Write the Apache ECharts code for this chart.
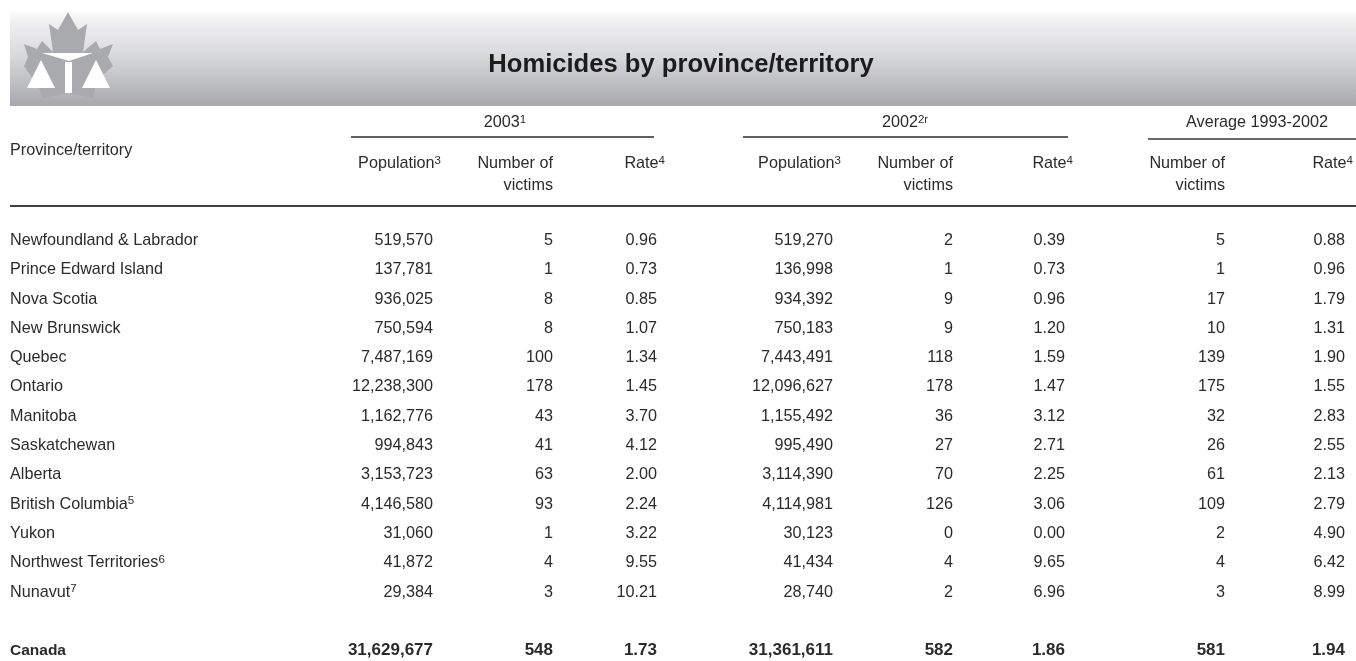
<!DOCTYPE html>
<html>
<head>
<meta charset="utf-8">
<title>Homicides by province/territory</title>
<script src="https://cdn.jsdelivr.net/npm/echarts@6/dist/echarts.min.js"></script>
<style>
  html, body { margin: 0; padding: 0; background: #fff; }
  #chart { width: 1356px; height: 661px; }
</style>
</head>
<body>
<div id="chart"></div>
<script>
// table values, last row is the total, the empty row keeps the gap above it
var provinces = ["Newfoundland & Labrador", "Prince Edward Island", "Nova Scotia", "New Brunswick", "Quebec", "Ontario", "Manitoba", "Saskatchewan", "Alberta", "British Columbia", "Yukon", "Northwest Territories", "Nunavut", "", "Canada"];
var footnotes = { "British Columbia": "5", "Northwest Territories": "6", "Nunavut": "7" };

var population2003 = [519570, 137781, 936025, 750594, 7487169, 12238300, 1162776, 994843, 3153723, 4146580, 31060, 41872, 29384, null, 31629677];
var victims2003 = [5, 1, 8, 8, 100, 178, 43, 41, 63, 93, 1, 4, 3, null, 548];
var rate2003 = [0.96, 0.73, 0.85, 1.07, 1.34, 1.45, 3.70, 4.12, 2.00, 2.24, 3.22, 9.55, 10.21, null, 1.73];

var population2002 = [519270, 136998, 934392, 750183, 7443491, 12096627, 1155492, 995490, 3114390, 4114981, 30123, 41434, 28740, null, 31361611];
var victims2002 = [2, 1, 9, 9, 118, 178, 36, 27, 70, 126, 0, 4, 2, null, 582];
var rate2002 = [0.39, 0.73, 0.96, 1.20, 1.59, 1.47, 3.12, 2.71, 2.25, 3.06, 0.00, 9.65, 6.96, null, 1.86];

var victimsAvg = [5, 1, 17, 10, 139, 175, 32, 26, 61, 109, 2, 4, 3, null, 581];
var rateAvg = [0.88, 0.96, 1.79, 1.31, 1.90, 1.55, 2.83, 2.55, 2.13, 2.79, 4.90, 6.42, 8.99, null, 1.94];

var FONT = '"Liberation Sans", Arial, sans-serif';
var INK = "#2b2b2b";
var SIZE = 16.2;
var rowHeight = 29.3;
var firstRowY = 240.5;

function thousands(v) { return v.toLocaleString("en-US"); }
function twoDecimals(v) { return v.toFixed(2); }
function plain(v) { return String(v); }

var richStyles = {
  sup: { fontFamily: FONT, fontSize: 11.5, fill: INK, color: INK, verticalAlign: "top", lineHeight: 12 },
  base: { fontFamily: FONT, fontSize: SIZE, fill: INK, color: INK, lineHeight: 18 }
};

// one custom series per column, placed by the axes
function columnSeries(name, colX, values, format) {
  var data = [];
  values.forEach(function (v, i) {
    if (v !== null) data.push([colX, i]);
  });
  return {
    name: name,
    type: "custom",
    silent: true,
    coordinateSystem: "cartesian2d",
    data: data,
    encode: { x: 0, y: 1 },
    renderItem: function (params, api) {
      var row = api.value(1);
      var pt = api.coord([api.value(0), row]);
      var total = row === provinces.length - 1;
      return {
        type: "text",
        x: pt[0],
        y: pt[1],
        style: {
          text: format(values[row]),
          align: "right",
          verticalAlign: "middle",
          fontFamily: FONT,
          fontSize: total ? 17 : SIZE,
          fontWeight: total ? "bold" : "normal",
          fill: INK
        }
      };
    }
  };
}

var nameSeries = {
  name: "Province/territory",
  type: "custom",
  silent: true,
  coordinateSystem: "cartesian2d",
  data: provinces.map(function (p, i) { return [10, i]; }),
  encode: { x: 0, y: 1 },
  renderItem: function (params, api) {
    var row = api.value(1);
    var pt = api.coord([api.value(0), row]);
    var name = provinces[row];
    var note = footnotes[name];
    var total = row === provinces.length - 1;
    return {
      type: "text",
      x: pt[0],
      y: pt[1],
      style: {
        text: note ? "{base|" + name + "}{sup|" + note + "}" : name,
        rich: richStyles,
        align: "left",
        verticalAlign: "middle",
        fontFamily: FONT,
        fontSize: total ? 15.5 : SIZE,
        fontWeight: total ? "bold" : "normal",
        fill: INK
      }
    };
  }
};

function headerText(x, y, text, align, extra) {
  var style = {
    text: text,
    rich: richStyles,
    x: x,
    y: y,
    align: align,
    verticalAlign: "middle",
    fontFamily: FONT,
    fontSize: SIZE,
    fill: INK
  };
  for (var k in extra) style[k] = extra[k];
  return { type: "text", silent: true, style: style };
}

function rule(x1, x2, y, width, color) {
  return {
    type: "line",
    silent: true,
    shape: { x1: x1, y1: y, x2: x2, y2: y },
    style: { stroke: color, lineWidth: width }
  };
}

function sup(label, note) { return "{base|" + label + "}{sup|" + note + "}"; }

// banner, logo, header labels and rules
var decoration = [
  {
    type: "rect",
    silent: true,
    shape: { x: 10, y: 10, width: 1346, height: 96 },
    style: {
      fill: new echarts.graphic.LinearGradient(0, 0, 0, 1, [
        { offset: 0, color: "#ffffff" },
        { offset: 0.1, color: "#f2f2f3" },
        { offset: 0.5, color: "#d6d7d9" },
        { offset: 1, color: "#a7a8ac" }
      ])
    }
  },
  {
    type: "polygon",
    silent: true,
    shape: { points: [[68, 12], [78, 30], [87, 24], [83, 52], [96, 41], [100, 49], [113, 44], [108, 57], [113, 66], [97, 80], [93, 98], [68, 93], [43, 98], [39, 88], [24, 66], [28, 57], [24, 44], [37, 49], [42, 41], [53, 52], [49, 24], [58, 30]] },
    style: { fill: "#a9aaae" }
  },
  { type: "polygon", silent: true, shape: { points: [[27, 88], [41, 60], [55, 88]] }, style: { fill: "#fff" } },
  { type: "polygon", silent: true, shape: { points: [[82, 88], [96, 60], [110, 88]] }, style: { fill: "#fff" } },
  { type: "polygon", silent: true, shape: { points: [[42, 53], [93, 53], [69, 61]] }, style: { fill: "#fff" } },
  { type: "rect", silent: true, shape: { x: 65, y: 62, width: 7, height: 31 }, style: { fill: "#fff" } },

  headerText(37, -8, "Table 1", "center", { fontWeight: "bold", fontSize: 18 }),
  headerText(681, 65, "Homicides by province/territory", "center", { fontWeight: "bold", fontSize: 25.6, fill: "#1c1c1c" }),

  headerText(10, 151, "Province/territory", "left"),
  headerText(505, 123, sup("2003", "1"), "center"),
  headerText(905, 123, sup("2002", "2r"), "center"),
  headerText(1257, 123, "Average 1993-2002", "center"),

  headerText(441, 164, sup("Population", "3"), "right"),
  headerText(553, 164, "Number of", "right"),
  headerText(553, 186, "victims", "right"),
  headerText(665, 164, sup("Rate", "4"), "right"),
  headerText(841, 164, sup("Population", "3"), "right"),
  headerText(953, 164, "Number of", "right"),
  headerText(953, 186, "victims", "right"),
  headerText(1073, 164, sup("Rate", "4"), "right"),
  headerText(1225, 164, "Number of", "right"),
  headerText(1225, 186, "victims", "right"),
  headerText(1353, 164, sup("Rate", "4"), "right"),

  rule(351, 654, 137, 1.5, "#2b2b2b"),
  rule(743, 1068, 137, 1.5, "#2b2b2b"),
  rule(1148, 1356, 139, 1.5, "#3a3a3a"),
  rule(10, 1356, 206, 2, "#3f3f3f")
];

var chart = echarts.init(document.getElementById("chart"), null, { renderer: "canvas" });
chart.setOption({
  animation: false,
  backgroundColor: "#fff",
  graphic: { elements: decoration },
  grid: {
    left: 0,
    right: 0,
    top: firstRowY - rowHeight / 2,
    height: rowHeight * provinces.length,
    outerBoundsMode: "none"
  },
  xAxis: { type: "value", min: 0, max: 1356, show: false },
  yAxis: { type: "category", data: provinces, inverse: true, show: false },
  series: [
    nameSeries,
    columnSeries("Population 2003", 433, population2003, thousands),
    columnSeries("Victims 2003", 553, victims2003, plain),
    columnSeries("Rate 2003", 657, rate2003, twoDecimals),
    columnSeries("Population 2002", 833, population2002, thousands),
    columnSeries("Victims 2002", 953, victims2002, plain),
    columnSeries("Rate 2002", 1065, rate2002, twoDecimals),
    columnSeries("Victims average", 1225, victimsAvg, plain),
    columnSeries("Rate average", 1345, rateAvg, twoDecimals)
  ]
});
</script>
</body>
</html>
